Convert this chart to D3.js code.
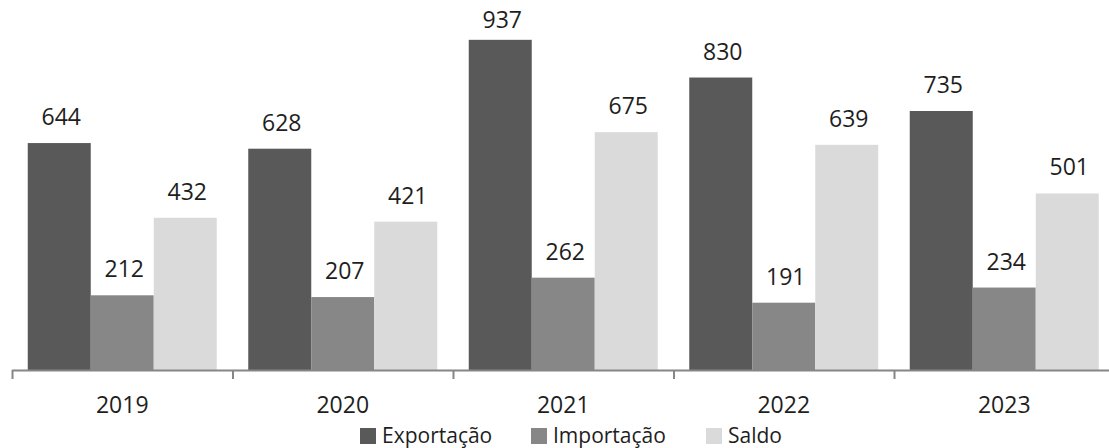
<!DOCTYPE html>
<html>
<head>
<meta charset="utf-8">
<script src="https://cdn.jsdelivr.net/npm/d3@7"></script>
<style>
  body { margin: 0; background: #fff; }
  text { font-family: "Open Sans", sans-serif; fill: #1e1e1e; }
</style>
</head>
<body>
<svg id="chart" width="1109" height="448"></svg>
<script>
const years = ["2019", "2020", "2021", "2022", "2023"]
const seriesNames = ["Exportação", "Importação", "Saldo"]
const exportacao = [644, 628, 937, 830, 735]
const importacao = [212, 207, 262, 191, 234]
const saldo = [432, 421, 675, 639, 501]
const colors = ["#595959", "#878787", "#dadada"]

const values = [exportacao, importacao, saldo]
const rows = years.map((y, i) => ({ year: y, vals: values.map(v => v[i]) }))

const svg = d3.select("#chart")
const baseY = 370

// the plot runs off the right edge, like the source image
let x = d3.scaleBand().domain(years).range([12, 12 + 5 * 220.5]).paddingInner(0).paddingOuter(0)
let xInner = d3.scaleBand().domain(d3.range(3)).range([0, x.bandwidth()]).paddingOuter(0.25).paddingInner(0)
let y = d3.scaleLinear().domain([0, 1050]).range([baseY, 0])

let groups = svg.selectAll("g.year")
  .data(rows)
  .enter()
  .append("g")
  .attr("class", "year")
  .attr("transform", d => "translate(" + x(d.year) + ",0)")

groups.selectAll("rect")
  .data(d => d.vals)
  .enter()
  .append("rect")
  .attr("x", (v, i) => xInner(i))
  .attr("width", xInner.bandwidth())
  .attr("y", v => y(v))
  .attr("height", v => baseY - y(v))
  .attr("fill", (v, i) => colors[i])

// labels sit above the bars but never above the plot top
groups.selectAll("text.val")
  .data(d => d.vals)
  .enter()
  .append("text")
  .attr("class", "val")
  .attr("x", (v, i) => xInner(i) + xInner.bandwidth() / 2 + 2)
  .attr("y", v => Math.max(y(v) - 18, 28))
  .attr("text-anchor", "middle")
  .style("font-size", "23px")
  .text(v => v)

// category axis with ticks between groups
let axis = d3.axisBottom(x).tickSize(0).tickPadding(0)
let axisG = svg.append("g").attr("transform", "translate(0," + baseY + ")").call(axis)
axisG.select(".domain").remove()
axisG.selectAll("text")
  .attr("y", 43)
  .attr("dy", null)
  .style("font-size", "23px")
  .style("fill", "#1e1e1e")
  .style("font-family", "'Open Sans', sans-serif")

svg.append("line")
  .attr("x1", 12).attr("x2", 1109)
  .attr("y1", baseY + 0.5).attr("y2", baseY + 0.5)
  .attr("stroke", "#868686").attr("stroke-width", 2)

svg.selectAll("line.tick")
  .data(years)
  .enter()
  .append("line")
  .attr("class", "tick")
  .attr("x1", d => x(d) + 0.5).attr("x2", d => x(d) + 0.5)
  .attr("y1", baseY).attr("y2", baseY + 9)
  .attr("stroke", "#868686").attr("stroke-width", 2)

// legend
let legendX = [360, 531, 706]
let legend = svg.selectAll("g.legend")
  .data(seriesNames)
  .enter()
  .append("g")
  .attr("class", "legend")
  .attr("transform", (d, i) => "translate(" + legendX[i] + ",428)")

legend.append("rect")
  .attr("width", 16).attr("height", 16)
  .attr("fill", (d, i) => colors[i])

legend.append("text")
  .attr("x", 22)
  .attr("y", 15)
  .style("font-size", "21px")
  .text(d => d)
</script>
</body>
</html>
